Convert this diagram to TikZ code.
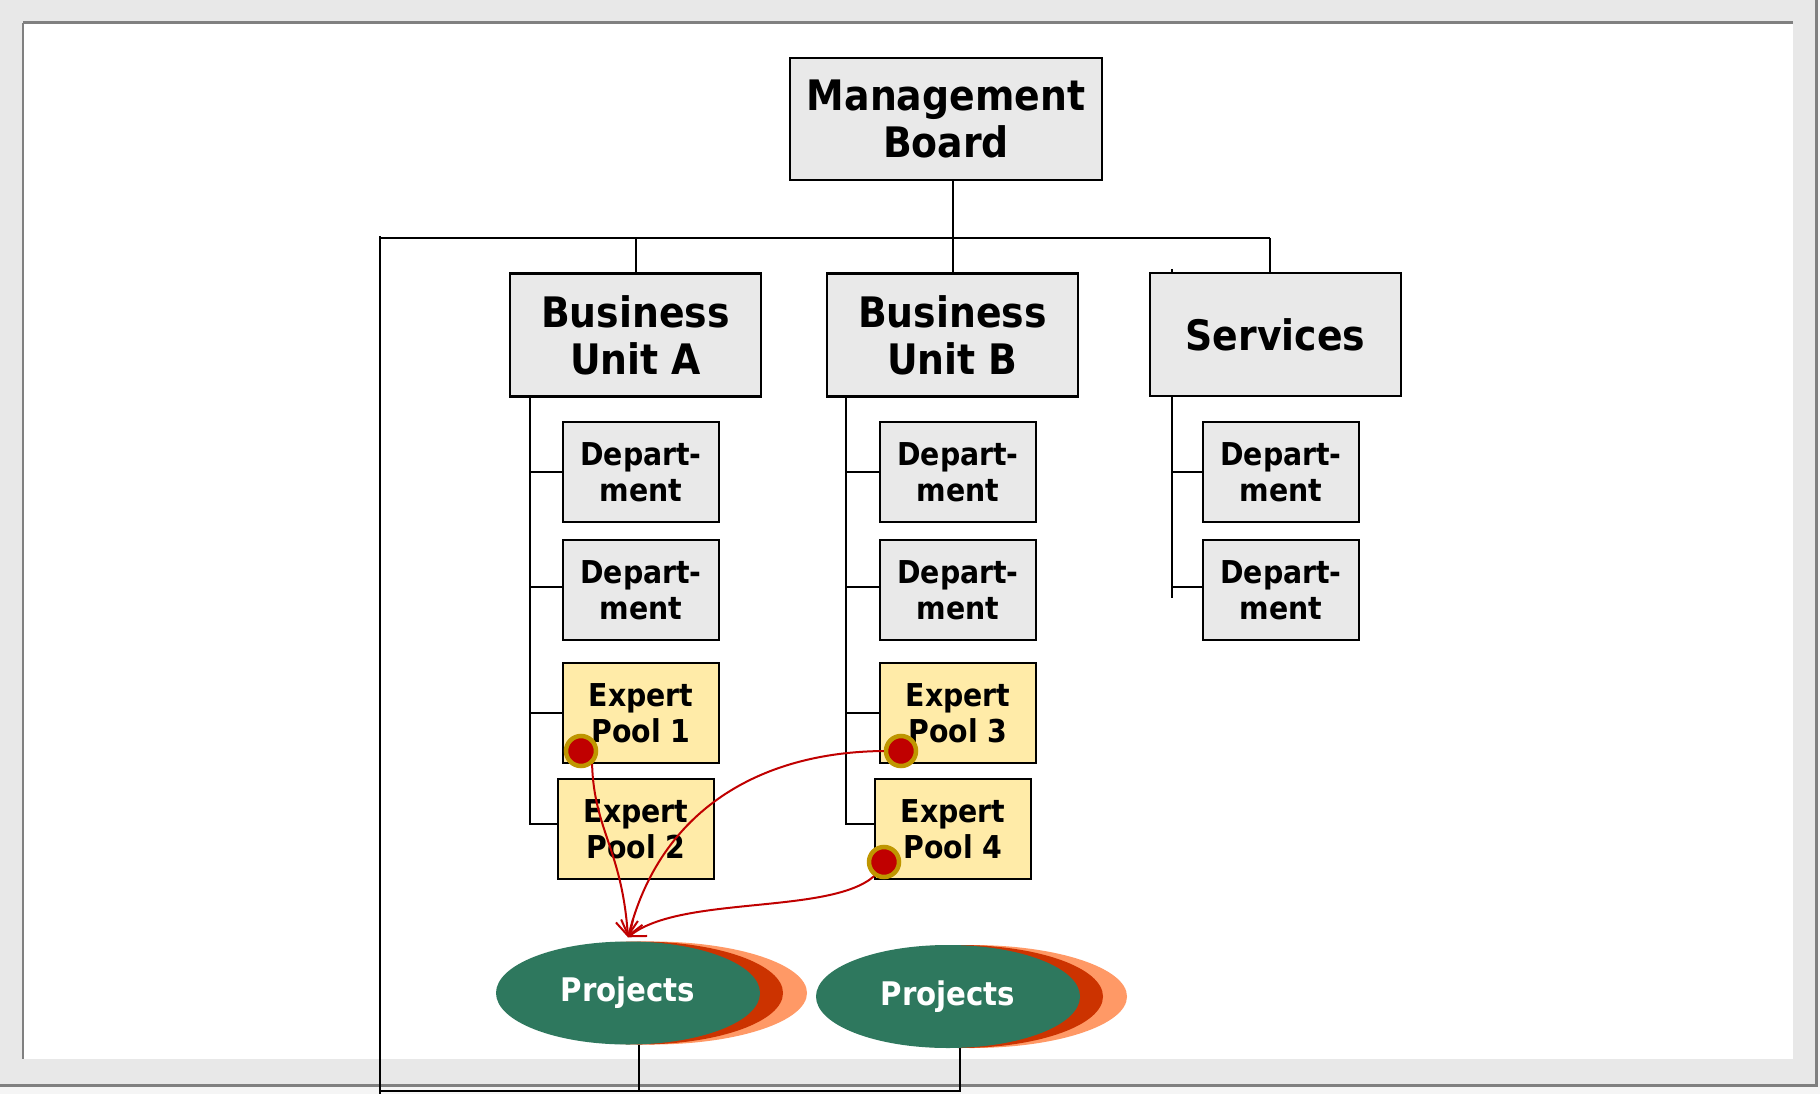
\documentclass[tikz,border=0pt]{standalone}
\usepackage{fontspec}
\setmainfont{DejaVu Sans Condensed}
\usetikzlibrary{
	shapes.geometric,
	arrows.meta,
	backgrounds}

\definecolor{pagegray}{HTML}{E8E8E8}
\definecolor{framegray}{HTML}{808080}
\definecolor{boxgray}{HTML}{E9E9E9}
\definecolor{poolyellow}{HTML}{FFEBA8}
\definecolor{projgreen}{HTML}{2E785E}
\definecolor{projred}{HTML}{CC3300}
\definecolor{projlight}{HTML}{FF9966}
\definecolor{flowred}{HTML}{C00000}
\definecolor{ringgold}{HTML}{BF9600}

\begin{document}
\begin{tikzpicture}[x=1pt,y=-1pt,every text node part/.style={align=center},
    unitbox/.style={draw,line width=2.2pt,fill=boxgray,inner sep=0pt,
      minimum width=251pt,minimum height=123pt,
      font=\bfseries\fontsize{42}{47}\selectfont},
    deptbox/.style={draw,line width=2.2pt,fill=boxgray,inner sep=0pt,
      minimum width=156pt,minimum height=100pt,
      font=\bfseries\fontsize{31.5}{36}\selectfont},
    poolbox/.style={deptbox,fill=poolyellow},
    projnode/.style={ellipse,fill=projgreen,text=white,inner sep=0pt,
      minimum width=264pt,minimum height=103pt,
      font=\bfseries\fontsize{32.5}{36}\selectfont},
    hotspot/.style={circle,fill=flowred,draw=ringgold,line width=4.5pt,
      minimum size=30pt,inner sep=0pt},
    link/.style={line width=2pt},
    flow/.style={draw=flowred,line width=2pt,
      -{Straight Barb[length=14pt,width=22pt]}}]
  \useasboundingbox (0,0) rectangle (1820,1094);

    % Page and frame
  \begin{scope}[on background layer]
    \fill[pagegray] (0,0) rectangle (1820,1094);
    \fill[white] (23,23) rectangle (1793,1059);
    \fill[white!96!black] (0,1087) rectangle (1820,1094);
    \fill[white!96!black] (1818,0) rectangle (1820,1094);
    \draw[framegray,line width=3pt] (23,23) -- (1793,23);
    \draw[framegray,line width=1.5pt] (23,23) -- (23,1059);
    \draw[framegray,line width=3pt] (0,1085.5) -- (1816.5,1085.5) -- (1816.5,0);
  \end{scope}

    % Organisation
  \node[unitbox,minimum width=312pt,minimum height=122pt] (MB) at (946,119) {Management\\Board};
  \node[unitbox] (BUA) at (635.5,335) {Business\\Unit A};
  \node[unitbox] (BUB) at (952.5,335) {Business\\Unit B};
  \node[unitbox] (SRV) at (1275.5,334.5) {Services};

  \node[deptbox] (DA1) at (641,472) {Depart-\\ment};
  \node[deptbox] (DA2) at (641,590) {Depart-\\ment};
  \node[poolbox] (EP1) at (641,713) {Expert\\Pool 1};
  \node[poolbox] (EP2) at (636,829) {Expert\\Pool 2};

  \node[deptbox] (DB1) at (958,472) {Depart-\\ment};
  \node[deptbox] (DB2) at (958,590) {Depart-\\ment};
  \node[poolbox] (EP3) at (958,713) {Expert\\Pool 3};
  \node[poolbox] (EP4) at (953,829) {Expert\\Pool 4};

  \node[deptbox] (DS1) at (1281,472) {Depart-\\ment};
  \node[deptbox] (DS2) at (1281,590) {Depart-\\ment};

    % Projects
  \fill[projlight] (652,993) ellipse [x radius=155,y radius=51.5];
  \fill[projred] (640,993) ellipse [x radius=143,y radius=51.5];
  \node[projnode] (PJ1) at (628,993) {Projects};
  \fill[projlight] (972,996.5) ellipse [x radius=155,y radius=51.5];
  \fill[projred] (960,996.5) ellipse [x radius=143,y radius=51.5];
  \node[projnode] (PJ2) at (948,996.5) {Projects};

    % Lines
  \coordinate (busL) at (381,238);
  \coordinate (busR) at (1270,238);
  \coordinate (leftT) at (380,236);
  \coordinate (leftB) at (380,1094);
  \coordinate (botL) at (380,1091);
  \coordinate (TA) at ([xshift=21pt]BUA.south west);
  \coordinate (TB) at ([xshift=20pt]BUB.south west);
  \coordinate (TS) at ([xshift=23pt,yshift=3pt]SRV.north west);
  \begin{scope}[on background layer]
    \draw[link] (busL) -- (busR);
    \draw[link] (leftT) -- (leftB);
    \draw[link] (BUB.north) -- (BUB.north |- MB.south);
    \draw[link] (BUA.north) -- (BUA.north |- busL);
    \draw[link] ([xshift=-6pt]SRV.north) -- ([xshift=-6pt]SRV.north |- busL);

    \draw[link] (TA) |- ([yshift=5pt]EP2.west);
    \draw[link] (DA1.west) -- (DA1.west -| TA);
    \draw[link] ([yshift=3pt]DA2.west) -- ([yshift=3pt]DA2.west -| TA);
    \draw[link] (EP1.west) -- (EP1.west -| TA);

    \draw[link] (TB) |- ([yshift=5pt]EP4.west);
    \draw[link] (DB1.west) -- (DB1.west -| TB);
    \draw[link] ([yshift=3pt]DB2.west) -- ([yshift=3pt]DB2.west -| TB);
    \draw[link] (EP3.west) -- (EP3.west -| TB);

    \draw[link] (TS) -- ([yshift=-8pt]TS |- DS2.west);
    \draw[link] (DS1.west) -- (DS1.west -| TS);
    \draw[link] ([yshift=3pt]DS2.west) -- ([yshift=3pt]DS2.west -| TS);

    \draw[link] ([xshift=11pt]PJ1.south) |- (botL);
    \draw[link] ([xshift=12pt]PJ2.south) |- (botL);
  \end{scope}

    % Staff flows
  \node[hotspot] (R1) at (581,751) {};
  \node[hotspot] (R3) at (901,751) {};
  \node[hotspot] (R4) at (884,862) {};
  \coordinate (TIP) at ([yshift=4pt]PJ1.north);

  \draw[flow] (R1.-50) .. controls (594,830) and (622,850) .. (TIP);
  \draw[flow] (R3.west) .. controls (760,752) and (660,810) .. (TIP);
  \draw[flow] (R4.-125) .. controls (830,915) and (680,895) .. (TIP);

\end{tikzpicture}
\end{document}
